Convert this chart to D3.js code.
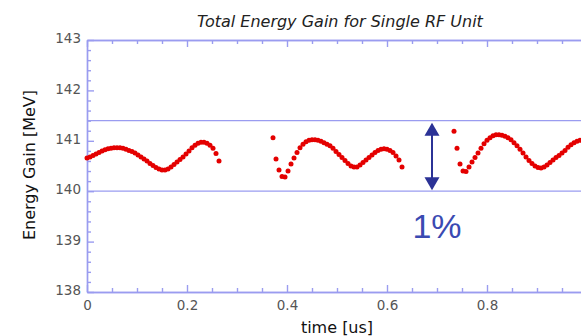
<!DOCTYPE html>
<html><head><meta charset="utf-8">
<script src="https://cdn.jsdelivr.net/npm/d3@7"></script>
<style>body{margin:0;background:#fff}svg{display:block}</style>
</head><body>
<script>
// ---- data ----
const title = "Total Energy Gain for Single RF Unit";
const xLabel = "time [us]";
const yLabel = "Energy Gain [MeV]";
const xTicks = [0, 0.2, 0.4, 0.6, 0.8];
const xTickLabels = ["0", "0.2", "0.4", "0.6", "0.8"];
const yTicks = [138, 139, 140, 141, 142, 143];
const refLines = [140, 141.4];
const step = 0.006; // sampling interval [us]
const seg1Start = 0.000;
const seg1 = [140.66,140.68,140.71,140.74,140.77,140.80,140.82,140.84,140.85,140.86,
  140.86,140.86,140.85,140.83,140.81,140.79,140.76,140.72,140.68,140.64,
  140.60,140.55,140.51,140.47,140.44,140.42,140.42,140.44,140.48,140.53,
  140.58,140.63,140.68,140.74,140.80,140.86,140.91,140.95,140.97,140.97,
  140.95,140.91,140.85,140.75,140.60];
const seg2Start = 0.372;
const seg2 = [141.06,140.64,140.42,140.29,140.28,140.40,140.54,140.66,140.77,140.86,
  140.93,140.98,141.01,141.02,141.02,141.01,140.99,140.96,140.93,140.90,
  140.85,140.79,140.73,140.67,140.61,140.55,140.50,140.48,140.48,140.52,
  140.57,140.62,140.67,140.72,140.77,140.81,140.83,140.84,140.83,140.81,
  140.77,140.70,140.62,140.48];
const seg3Start = 0.734;
const seg3 = [141.19,140.85,140.54,140.40,140.39,140.48,140.58,140.67,140.76,140.85,
  140.94,141.01,141.06,141.10,141.12,141.12,141.11,141.09,141.06,141.02,
  140.96,140.90,140.83,140.76,140.68,140.61,140.55,140.50,140.47,140.46,
  140.48,140.52,140.57,140.62,140.67,140.71,140.76,140.81,140.87,140.92,
  140.96,140.99,141.01,141.02,141.02];
const annotation = "1%";
const arrowT = 0.69;

// ---- layout ----
const W = 581, H = 336;
const axisColor = "#9a9cf0";
const svg = d3.select("body").append("svg").attr("width", W).attr("height", H);
const x = d3.scaleLinear().domain([0, 1]).range([87, 587]);
const y = d3.scaleLinear().domain([138, 143]).range([292, 40]);

const pts = [];
[[seg1Start, seg1], [seg2Start, seg2], [seg3Start, seg3]].forEach(([t0, arr]) => {
  arr.forEach((v, i) => pts.push({t: t0 + i * step, v}));
});

// reference lines
svg.selectAll("line.ref").data(refLines).join("line")
  .attr("x1", x(0)).attr("x2", W).attr("y1", d => y(d)).attr("y2", d => y(d))
  .attr("stroke", axisColor).attr("stroke-width", 1.2);

function styleAxis(g) {
  g.select(".domain").attr("stroke", axisColor).attr("stroke-width", 1.4);
  g.selectAll(".tick line").attr("stroke", axisColor).attr("stroke-width", 1.4);
  g.selectAll(".tick text").attr("fill", "#555").style("font-family", "DejaVu Sans")
    .style("font-size", "13.5px");
}
const minorX = d3.range(0, 1.001, 0.05).filter(v => Math.abs(v / 0.2 - Math.round(v / 0.2)) > 1e-6);
const minorY = d3.range(138, 143.001, 0.2).filter(v => Math.abs(v - Math.round(v)) > 1e-6);
const majorXAll = [...xTicks, 1.0];

// bottom axis
svg.append("g").attr("transform", `translate(0,${y(138)})`)
  .call(d3.axisBottom(x).tickValues(minorX).tickSizeInner(-4).tickSizeOuter(0).tickFormat(""))
  .call(styleAxis);
svg.append("g").attr("transform", `translate(0,${y(138)})`)
  .call(d3.axisBottom(x).tickValues(xTicks).tickSizeInner(-7).tickSizeOuter(0).tickPadding(8)
    .tickFormat((d, i) => xTickLabels[i]))
  .call(styleAxis);
// top axis
svg.append("g").attr("transform", `translate(0,${y(143)})`)
  .call(d3.axisTop(x).tickValues(minorX).tickSizeInner(-4).tickSizeOuter(0).tickFormat(""))
  .call(styleAxis);
svg.append("g").attr("transform", `translate(0,${y(143)})`)
  .call(d3.axisTop(x).tickValues(majorXAll).tickSizeInner(-7).tickSizeOuter(0).tickFormat(""))
  .call(styleAxis);
// left axis
svg.append("g").attr("transform", `translate(${x(0)},0)`)
  .call(d3.axisLeft(y).tickValues(minorY).tickSizeInner(-4).tickSizeOuter(0).tickFormat(""))
  .call(styleAxis);
svg.append("g").attr("transform", `translate(${x(0)},0)`)
  .call(d3.axisLeft(y).tickValues(yTicks).tickSizeInner(-7).tickSizeOuter(0).tickPadding(6)
    .tickFormat(d3.format("d")))
  .call(styleAxis)
  .call(g => g.selectAll(".tick text").attr("dy", "0.2em"));

// data dots
svg.append("g").selectAll("circle").data(pts).join("circle")
  .attr("cx", d => x(d.t)).attr("cy", d => y(d.v)).attr("r", 2.5)
  .attr("fill", "#e40000");

// arrow
const ac = "#2b3296";
const ax = x(arrowT), yTop = y(refLines[1]) + 2, yBot = y(refLines[0]) - 1;
svg.append("line").attr("x1", ax).attr("x2", ax).attr("y1", yTop + 10).attr("y2", yBot - 10)
  .attr("stroke", ac).attr("stroke-width", 2);
svg.append("path").attr("d", `M${ax},${yTop} L${ax - 7.5},${yTop + 13} L${ax + 7.5},${yTop + 13} Z`).attr("fill", ac);
svg.append("path").attr("d", `M${ax},${yBot} L${ax - 7.5},${yBot - 13} L${ax + 7.5},${yBot - 13} Z`).attr("fill", ac);

svg.append("text").attr("x", ax + 5).attr("y", 238).attr("text-anchor", "middle")
  .style("font-family", "Liberation Sans").style("font-size", "34px").attr("fill", "#3a4ab2")
  .text(annotation);

// titles
svg.append("text").attr("x", 340).attr("y", 27).attr("text-anchor", "middle")
  .style("font-family", "DejaVu Sans").style("font-style", "italic").style("font-size", "16px")
  .attr("fill", "#222").text(title);
svg.append("text").attr("x", 337).attr("y", 333).attr("text-anchor", "middle")
  .style("font-family", "DejaVu Sans").style("font-size", "16px").attr("fill", "#111").text(xLabel);
svg.append("text").attr("transform", "translate(35,165) rotate(-90)").attr("text-anchor", "middle")
  .style("font-family", "DejaVu Sans").style("font-size", "16px").attr("fill", "#111").text(yLabel);
</script>
</body></html>
